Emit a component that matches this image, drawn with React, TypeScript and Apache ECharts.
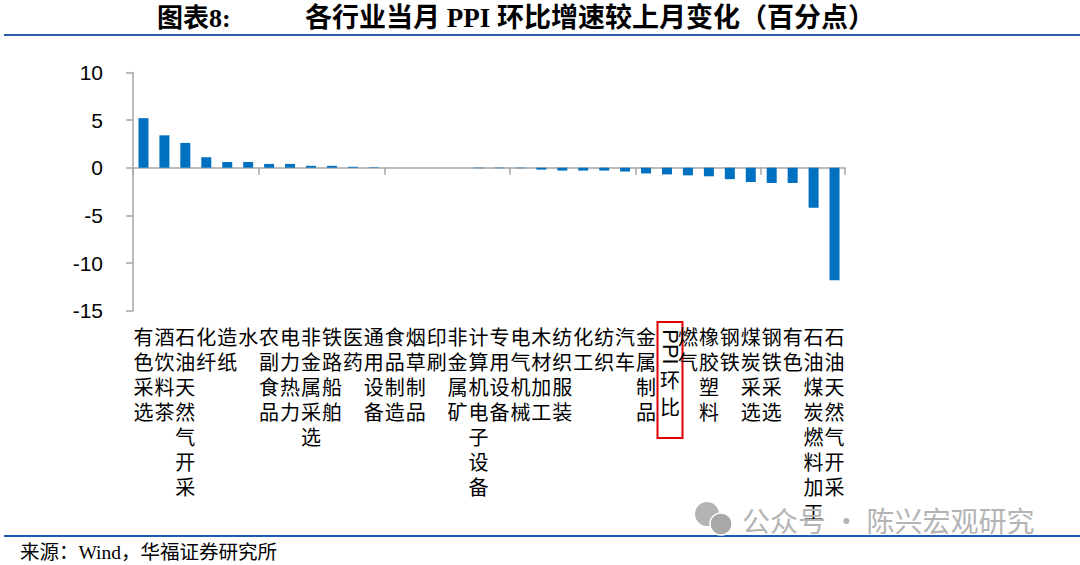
import React, { useEffect, useRef } from "react";
import * as echarts from "echarts";

// ---------- data ----------
const categories: string[] = [
  "有色采选", "酒饮料茶", "石油天然气开采", "化纤", "造纸", "水", "农副食品", "电力热力",
  "非金属采选", "铁路船舶", "医药", "通用设备", "食品制造", "烟草制品", "印刷", "非金属矿",
  "计算机电子设备", "专用设备", "电气机械", "木材加工", "纺织服装", "化工", "纺织", "汽车",
  "金属制品", "PPI环比", "燃气", "橡胶塑料", "钢铁", "煤炭采选", "钢铁采选", "有色",
  "石油煤炭燃料加工", "石油天然气开采",
];
const values: number[] = [
  5.2, 3.4, 2.6, 1.1, 0.6, 0.6, 0.4, 0.4,
  0.2, 0.2, 0.1, 0.05, 0, 0, 0, 0,
  -0.05, -0.05, -0.05, -0.2, -0.3, -0.3, -0.3, -0.4,
  -0.6, -0.7, -0.8, -0.9, -1.2, -1.5, -1.6, -1.6,
  -4.2, -11.8,
];
const yMin = -15;
const yMax = 10;
const yInterval = 5;
const highlightCategory = "PPI环比";
const titleLabel = "图表8:";
const titleText = "各行业当月 PPI 环比增速较上月变化（百分点）";
const sourceText = "来源：Wind，华福证券研究所";
const watermarkText = "公众号 · 陈兴宏观研究";

const CJK = '"Noto Sans CJK SC"';
const AXIS_GRAY = "#a6a6a6";
const BAR_BLUE = "#0070c0";

export default function App() {
  const ref = useRef<HTMLDivElement>(null);

  useEffect(() => {
    const el = ref.current;
    if (!el) return;
    const chart = echarts.init(el, null, { renderer: "svg" });
    const hiIndex = categories.indexOf(highlightCategory);

    const baseGraphics: any[] = [
      {
        id: "titleLabel",
        type: "text",
        x: 157,
        y: 18,
        style: {
          text: titleLabel,
          font: `bold 26px "Liberation Serif", ${CJK}`,
          fill: "#000",
          verticalAlign: "middle",
        },
      },
      {
        id: "titleText",
        type: "text",
        x: 305,
        y: 18,
        style: {
          text: titleText,
          font: `bold 27px "Liberation Serif", ${CJK}`,
          fill: "#000",
          verticalAlign: "middle",
        },
      },
      {
        id: "topLine",
        type: "line",
        shape: { x1: 4, y1: 35, x2: 1080, y2: 35 },
        style: { stroke: "#2e5da8", lineWidth: 2 },
      },
      {
        id: "bottomLine",
        type: "line",
        shape: { x1: 4, y1: 536, x2: 1080, y2: 536 },
        style: { stroke: "#1e5bb8", lineWidth: 2 },
      },
      {
        id: "source",
        type: "text",
        x: 20,
        y: 552,
        style: {
          text: sourceText,
          font: `19.5px "Liberation Serif", ${CJK}`,
          fill: "#000",
          verticalAlign: "middle",
        },
      },
      {
        id: "wmIcon1",
        type: "circle",
        z: 100,
        shape: { cx: 707, cy: 514, r: 12 },
        style: { fill: "#b3b3b3" },
      },
      {
        id: "wmIcon2",
        type: "circle",
        z: 101,
        shape: { cx: 721, cy: 524, r: 11 },
        style: { fill: "#a8a8a8", stroke: "#fff", lineWidth: 1.5 },
      },
      {
        id: "wmText",
        type: "text",
        z: 100,
        x: 742,
        y: 520,
        style: {
          text: watermarkText,
          font: `28px ${CJK}`,
          fill: "#b4b4b4",
          verticalAlign: "middle",
        },
      },
    ];

    chart.setOption({
      animation: false,
      backgroundColor: "#fff",
      grid: { left: 133, right: 235, top: 72.4, bottom: 254.3, containLabel: false },
      xAxis: [
        {
          type: "category",
          data: categories,
          position: "bottom",
          axisLine: { show: true, onZero: true, lineStyle: { color: AXIS_GRAY, width: 1.5 } },
          axisTick: { show: true, length: 7, lineStyle: { color: AXIS_GRAY, width: 1.5 } },
          axisLabel: { show: false },
          splitLine: { show: false },
        },
        {
          type: "category",
          data: categories,
          position: "bottom",
          axisLine: { show: false, onZero: false },
          axisTick: { show: false },
          splitLine: { show: false },
          axisLabel: {
            show: true,
            interval: 0,
            margin: 13,
            fontSize: 20,
            lineHeight: 25,
            fontFamily: CJK,
            color: "#000",
            formatter: (v: string) => (v === highlightCategory ? "" : v.split("").join("\n")),
          },
        },
      ],
      yAxis: {
        type: "value",
        min: yMin,
        max: yMax,
        interval: yInterval,
        axisLine: { show: true, lineStyle: { color: AXIS_GRAY, width: 1.5 } },
        axisTick: { show: true, length: 7, lineStyle: { color: AXIS_GRAY, width: 1.5 } },
        splitLine: { show: false },
        axisLabel: {
          margin: 30,
          fontSize: 21,
          fontFamily: '"Liberation Sans", Arial, sans-serif',
          color: "#000",
        },
      },
      series: [
        {
          type: "bar",
          xAxisIndex: 0,
          data: values,
          barWidth: 10,
          itemStyle: { color: BAR_BLUE },
        },
      ],
      graphic: baseGraphics,
    });

    const cx = chart.convertToPixel({ xAxisIndex: 0 }, hiIndex) as number;
    const bx = cx + 3;
    chart.setOption({
      graphic: [
        ...baseGraphics,
        {
          id: "ppiBox",
          type: "rect",
          shape: { x: bx - 12.5, y: 322, width: 25, height: 116 },
          style: { fill: "none", stroke: "#e00000", lineWidth: 2 },
        },
        {
          id: "ppiText",
          type: "text",
          x: bx,
          y: 347,
          rotation: -Math.PI / 2,
          style: {
            text: "PPI",
            font: '22px "Liberation Sans", Arial, sans-serif',
            fill: "#000",
            align: "center",
            verticalAlign: "middle",
          },
        },
        {
          id: "ppiCjk",
          type: "text",
          x: bx,
          y: 366,
          style: {
            text: "环\n比",
            font: `20px ${CJK}`,
            lineHeight: 27,
            fill: "#000",
            align: "center",
            verticalAlign: "top",
          },
        },
      ],
    });

    return () => {
      chart.dispose();
    };
  }, []);

  return (
    <div
      ref={ref}
      style={{ position: "absolute", left: 0, top: 0, width: 1080, height: 565, background: "#fff" }}
    />
  );
}
